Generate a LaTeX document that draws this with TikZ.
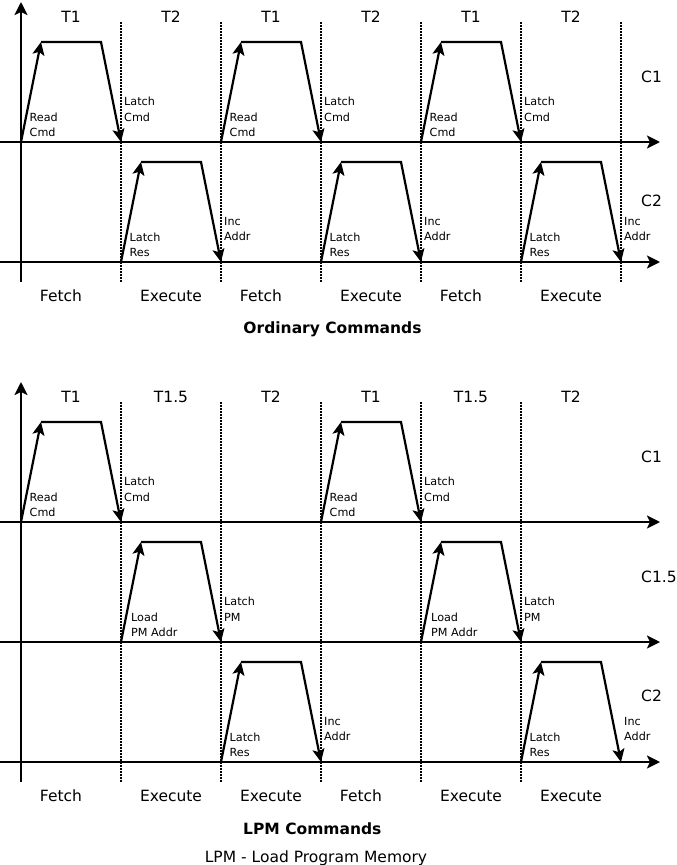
\documentclass[tikz,border=0pt]{standalone}
\usepackage{fontspec}
\setmainfont{DejaVu Sans}
\usetikzlibrary{
    arrows.meta,
    positioning
}
\tikzset{
    axis/.style={
        line width=2.2pt,
        -{Stealth[length=13pt, width=13pt, inset=3pt]}
    },
    edge/.style={
        line width=2.2pt,
        -{Stealth[length=13pt, width=12pt, inset=3pt]}
    },
    tick/.style={
        line width=1.6pt,
        dash pattern=on 1.6pt off 1.4pt
    },
    phase/.style={
        anchor=base,
        inner sep=0pt,
        font=\fontsize{15.5}{18}\selectfont
    },
    chan/.style={
        anchor=base west,
        inner sep=0pt,
        font=\fontsize{15.5}{18}\selectfont
    },
    note/.style={
        anchor=north west,
        align=left,
        inner sep=0pt,
        font=\fontsize{11.2}{15.5}\selectfont
    },
    heading/.style={
        anchor=base,
        inner sep=0pt,
        font=\bfseries\fontsize{15.5}{18}\selectfont
    }
}
% one pulse: start x, axis y, name, rising label, falling label
\newcommand{\pulse}[5]{%
    \coordinate (#3-lo) at (#1,#2);
    \coordinate (#3-up) at (#1+20,#2-100);
    \coordinate (#3-dn) at (#1+80,#2-100);
    \coordinate (#3-end) at (#1+100,#2);
    \draw[edge] (#3-lo) -- (#3-up);
    \draw[edge] (#3-up) -- (#3-dn) -- (#3-end);
    \node[note] (#3-rise) at (#1+8.5,#2-29.5) {#4};
    \node[note] (#3-fall) at (#1+103,#2-45) {#5};
}

\begin{document}
\begin{tikzpicture}[x=1pt, y=-1pt]
\useasboundingbox (0,0) rectangle (677,865);

% ordinary commands
\coordinate (oy0) at (21,282);
\coordinate (oy1) at (21,2);
\coordinate (oc1a) at (0,142);
\coordinate (oc1b) at (660,142);
\coordinate (oc2a) at (0,262);
\coordinate (oc2b) at (660,262);
\foreach \x in {121,221,...,621} {
    \draw[tick] (\x,22) -- (\x,282);
}
\draw[axis] (oy0) -- (oy1);
\draw[axis] (oc1a) -- (oc1b);
\draw[axis] (oc2a) -- (oc2b);

\pulse{21}{142}{oa}{Read\\Cmd}{Latch\\Cmd}
\pulse{221}{142}{ob}{Read\\Cmd}{Latch\\Cmd}
\pulse{421}{142}{oc}{Read\\Cmd}{Latch\\Cmd}
\pulse{121}{262}{od}{Latch\\Res}{Inc\\Addr}
\pulse{321}{262}{oe}{Latch\\Res}{Inc\\Addr}
\pulse{521}{262}{of}{Latch\\Res}{Inc\\Addr}

\foreach \x/\t [count=\i] in {71/T1,171/T2,271/T1,371/T2,471/T1,571/T2} {
    \node[phase] (ot\i) at (\x,22) {\t};
}
\foreach \x/\t [count=\i] in {61/Fetch,171/Execute,261/Fetch,371/Execute,461/Fetch,571/Execute} {
    \node[phase] (of\i) at (\x,301.7) {\t};
}
\node[chan] (oc1) at (641,82) {C1};
\node[chan] (oc2) at (641,206.7) {C2};
\node[heading] (otitle) at (332.5,333) {Ordinary Commands};

% LPM commands
\coordinate (ly0) at (21,782);
\coordinate (ly1) at (21,382);
\coordinate (lc1a) at (0,522);
\coordinate (lc1b) at (660,522);
\coordinate (lc15a) at (0,642);
\coordinate (lc15b) at (660,642);
\coordinate (lc2a) at (0,762);
\coordinate (lc2b) at (660,762);
\foreach \x in {121,221,...,521} {
    \draw[tick] (\x,402) -- (\x,782);
}
\draw[axis] (ly0) -- (ly1);
\draw[axis] (lc1a) -- (lc1b);
\draw[axis] (lc15a) -- (lc15b);
\draw[axis] (lc2a) -- (lc2b);

\pulse{21}{522}{la}{Read\\Cmd}{Latch\\Cmd}
\pulse{321}{522}{lb}{Read\\Cmd}{Latch\\Cmd}
\pulse{121}{642}{lc}{\hspace*{1.5pt}Load\\\hspace*{1.5pt}PM Addr}{Latch\\PM}
\pulse{421}{642}{ld}{\hspace*{1.5pt}Load\\\hspace*{1.5pt}PM Addr}{Latch\\PM}
\pulse{221}{762}{le}{Latch\\Res}{Inc\\Addr}
\pulse{521}{762}{lf}{Latch\\Res}{Inc\\Addr}

\foreach \x/\t [count=\i] in {71/T1,171/T1.5,271/T2,371/T1,471/T1.5,571/T2} {
    \node[phase] (lt\i) at (\x,402) {\t};
}
\foreach \x/\t [count=\i] in {61/Fetch,171/Execute,271/Execute,361/Fetch,471/Execute,571/Execute} {
    \node[phase] (lf\i) at (\x,801.7) {\t};
}
\node[chan] (lc1) at (641,462) {C1};
\node[chan] (lc15) at (641,582.7) {C1.5};
\node[chan] (lc2) at (641,701.5) {C2};
\node[heading] (ltitle) at (312.3,834) {LPM Commands};
\node[phase] (lnote) at (316,862.5) {LPM - Load Program Memory};

\end{tikzpicture}
\end{document}
